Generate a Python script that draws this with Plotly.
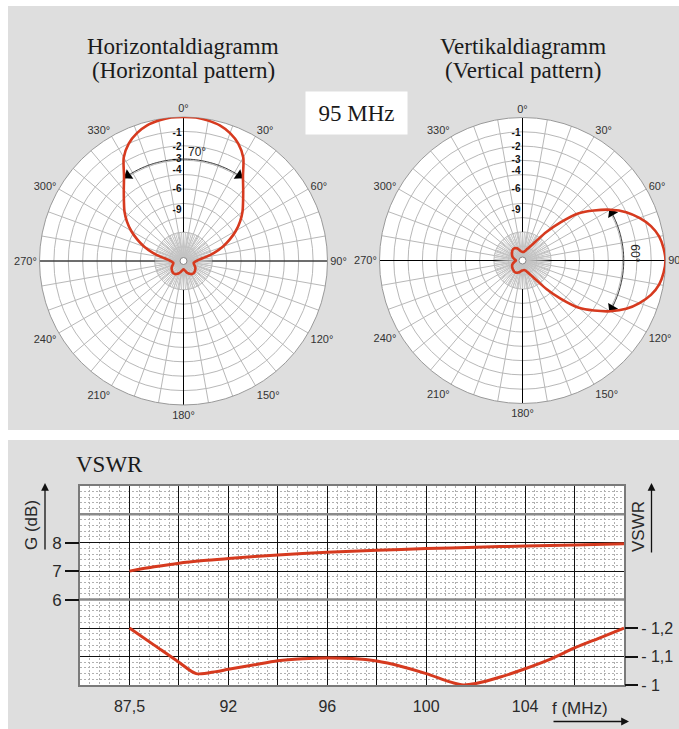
import numpy as np
import plotly.graph_objects as go

W, H = 679, 729          # target picture size
FIG_H = 738              # figure height; the photographed page is squeezed to 729 px

# ---------------- data ----------------
theta_deg = list(range(0, 365, 5))

# Horizontal pattern (relative field strength, linear), 95 MHz
h_pattern = [1.00, 1.00, 0.99, 0.975, 0.945, 0.90, 0.83, 0.72, 0.645, 0.585,
             0.535, 0.48, 0.42, 0.355, 0.29, 0.22, 0.155, 0.11, 0.09, 0.078,
             0.072, 0.074, 0.08, 0.088, 0.095, 0.10, 0.105, 0.108, 0.11, 0.109,
             0.105, 0.098, 0.09, 0.08, 0.07, 0.062, 0.058, 0.062, 0.07, 0.08,
             0.09, 0.098, 0.105, 0.109, 0.11, 0.108, 0.105, 0.10, 0.095, 0.088,
             0.08, 0.074, 0.072, 0.078, 0.09, 0.11, 0.155, 0.22, 0.29, 0.355,
             0.42, 0.48, 0.535, 0.585, 0.645, 0.72, 0.83, 0.90, 0.945, 0.975,
             0.99, 1.00, 1.00]

# Vertical pattern (relative field strength, linear), 95 MHz
v_pattern = [0.06, 0.06, 0.062, 0.068, 0.08, 0.095, 0.12, 0.165, 0.26, 0.38,
             0.515, 0.61, 0.71, 0.80, 0.87, 0.93, 0.97, 0.99, 1.00, 0.99,
             0.97, 0.93, 0.87, 0.80, 0.71, 0.61, 0.515, 0.38, 0.26, 0.165,
             0.12, 0.095, 0.08, 0.072, 0.068, 0.068, 0.07, 0.072, 0.078, 0.085,
             0.09, 0.095, 0.097, 0.097, 0.095, 0.092, 0.09, 0.087, 0.084, 0.08,
             0.074, 0.066, 0.058, 0.05, 0.046, 0.05, 0.058, 0.066, 0.074, 0.08,
             0.085, 0.09, 0.095, 0.10, 0.103, 0.103, 0.10, 0.094, 0.085, 0.075,
             0.066, 0.062, 0.06]

db_ticks = [-1, -2, -3, -4, -6, -9]
ring_vals = [0.1, 0.2, 0.3, 0.4, 0.5, 0.6, 0.7, 0.8, 0.9, 1.0]
ang_labels = [0, 30, 60, 90, 120, 150, 180, 210, 240, 270, 300, 330]
h_beamwidth = 70
v_beamwidth = 60
v_beam_center = 90

# Gain / VSWR vs frequency (band start 87.5 MHz sits on the first labelled gridline)
gain_f = [88, 89, 90, 91, 92, 94, 96, 98, 100, 102, 104, 106, 108]
gain_db = [7.0, 7.15, 7.28, 7.37, 7.44, 7.57, 7.66, 7.73, 7.79, 7.84, 7.88, 7.92, 7.96]
vswr_f = [88, 89, 90, 90.7, 91.5, 92, 93, 94, 95, 96, 97, 98, 99, 100, 101,
          101.5, 102, 103, 104, 105, 106, 107, 108]
vswr = [1.20, 1.14, 1.08, 1.04, 1.047, 1.055, 1.07, 1.085, 1.092, 1.095, 1.093,
        1.084, 1.065, 1.04, 1.01, 1.0, 1.005, 1.028, 1.057, 1.09, 1.13, 1.165, 1.20]
x_alias = {"86": "", "88": "87,5", "90": "", "92": "92", "94": "", "96": "96",
           "98": "", "100": "100", "102": "", "104": "104", "106": "", "108": ""}
gain_ticks = [6, 7, 8]
vswr_ticks = [1.0, 1.1, 1.2]
vswr_ticktext = ["- 1", "- 1,1", "- 1,2"]

# ---------------- styling ----------------
RED = "#d63a1f"
SERIF = "Liberation Serif, Times New Roman, serif"
SANS = "Liberation Sans, Arial, sans-serif"
GRID = "#b8b8b8"
PANEL = "#dedede"

LEFT = dict(cx=183.5, cy=261.0, R=144.0)
RIGHT = dict(cx=522.5, cy=260.5, R=143.0)


def px(x, y):
    """picture pixel -> paper fraction"""
    return x / W, (H - y) / H


def dom(c, scale=1.0):
    R = c["R"] * scale
    x0, y0 = px(c["cx"] - R, c["cy"] + R)
    x1, y1 = px(c["cx"] + R, c["cy"] - R)
    return dict(x=[x0, x1], y=[y0, y1])


def grid_polar(c):
    return dict(
        domain=dom(c), bgcolor="white", hole=0,
        angularaxis=dict(rotation=90, direction="clockwise", tickmode="array",
                         tickvals=list(range(0, 360, 10)),
                         ticktext=[f"{a}°" if a in ang_labels else "" for a in range(0, 360, 10)],
                         showgrid=True, gridcolor=GRID, gridwidth=0.7,
                         showline=True, linecolor="#9a9a9a", linewidth=1, ticks="",
                         tickfont=dict(family=SANS, size=11, color="#333")),
        radialaxis=dict(range=[0, 1], tickvals=ring_vals, showticklabels=False,
                        ticks="", showline=False, showgrid=True,
                        gridcolor=GRID, gridwidth=0.7))


def fan_polar(c):
    return dict(
        domain=dom(c, 0.2), bgcolor="rgba(0,0,0,0)", hole=0,
        angularaxis=dict(rotation=90, direction="clockwise", tickmode="linear",
                         tick0=0, dtick=4, showgrid=True, gridcolor="#c4c4c4",
                         gridwidth=0.5, showticklabels=False, ticks="", showline=False),
        radialaxis=dict(range=[0, 1], showgrid=False, showticklabels=False,
                        ticks="", showline=False))


def data_polar(c):
    return dict(
        domain=dom(c), bgcolor="rgba(0,0,0,0)", hole=0,
        angularaxis=dict(rotation=90, direction="clockwise", showgrid=False,
                         showticklabels=False, ticks="", showline=False),
        radialaxis=dict(range=[0, 1], angle=90, side="counterclockwise",
                        tickmode="array",
                        tickvals=[10 ** (d / 20) for d in db_ticks],
                        ticktext=[f"<b>{d}</b>" for d in db_ticks],
                        tickangle=90,
                        showgrid=False, showline=False, ticks="",
                        tickfont=dict(family=SANS, size=10, color="#111")))


fig = go.Figure()

r3 = 10 ** (-3 / 20)


def add_polar_set(grid_id, fan_id, data_id, pattern, arc_a0, arc_a1, arrow_angles):
    fig.add_trace(go.Scatterpolar(r=[1, 0, 1], theta=[0, 0, 180], mode="lines",
                                  line=dict(color="black", width=1),
                                  subplot=grid_id, hoverinfo="skip", showlegend=False))
    fig.add_trace(go.Scatterpolar(r=[1, 0, 1], theta=[90, 90, 270], mode="lines",
                                  line=dict(color="black", width=1),
                                  subplot=grid_id, hoverinfo="skip", showlegend=False))
    fig.add_trace(go.Scatterpolar(r=[0], theta=[0], mode="markers",
                                  marker=dict(size=1, opacity=0),
                                  subplot=fan_id, hoverinfo="skip", showlegend=False))
    arc_t = np.linspace(arc_a0, arc_a1, 80)
    fig.add_trace(go.Scatterpolar(r=[r3] * len(arc_t), theta=arc_t, mode="lines",
                                  line=dict(color="#333", width=1),
                                  subplot=data_id, hoverinfo="skip", showlegend=False))
    fig.add_trace(go.Scatterpolar(r=[r3, r3], theta=[arc_a0 + 2, arc_a1 - 2], mode="markers",
                                  marker=dict(symbol="triangle-up", size=10, color="black",
                                              angle=arrow_angles, line=dict(width=0)),
                                  subplot=data_id, hoverinfo="skip", showlegend=False))
    fig.add_trace(go.Scatterpolar(r=pattern, theta=theta_deg, mode="lines",
                                  line=dict(color=RED, width=2.6, shape="spline", smoothing=0.8),
                                  subplot=data_id, hoverinfo="skip", showlegend=False))
    fig.add_trace(go.Scatterpolar(r=[0], theta=[0], mode="markers",
                                  marker=dict(size=7, color="white", line=dict(color="#888", width=1)),
                                  subplot=data_id, hoverinfo="skip", showlegend=False))


add_polar_set("polar", "polar2", "polar3", h_pattern,
              -h_beamwidth / 2, h_beamwidth / 2, [235, 125])
add_polar_set("polar4", "polar5", "polar6", v_pattern,
              v_beam_center - v_beamwidth / 2, v_beam_center + v_beamwidth / 2, [330, 210])

# ---------------- bottom chart ----------------
fig.add_trace(go.Scatter(x=gain_f, y=gain_db, mode="lines", yaxis="y3",
                         line=dict(color=RED, width=3, shape="spline", smoothing=0.8),
                         hoverinfo="skip", showlegend=False))
fig.add_trace(go.Scatter(x=vswr_f, y=vswr, mode="lines", yaxis="y2",
                         line=dict(color=RED, width=3, shape="spline", smoothing=0.8),
                         hoverinfo="skip", showlegend=False))

xa0, ya0 = px(80, 685)
xa1, ya1 = px(624, 485.7)

MINOR = dict(showgrid=True, gridcolor="#b0b0b0", griddash="2px,2px", gridwidth=1, ticks="")

layout = dict(
    width=W, height=FIG_H, margin=dict(l=0, r=0, t=0, b=0),
    paper_bgcolor=PANEL, plot_bgcolor="white", showlegend=False,
    polar=grid_polar(LEFT), polar2=fan_polar(LEFT), polar3=data_polar(LEFT),
    polar4=grid_polar(RIGHT), polar5=fan_polar(RIGHT), polar6=data_polar(RIGHT),
    xaxis=dict(domain=[xa0, xa1], range=[86, 108], tickmode="linear", tick0=86, dtick=2,
               labelalias=x_alias, showgrid=True, gridcolor="#111", gridwidth=1,
               ticks="", showline=True, mirror=True, linecolor="#7a7a7a", linewidth=2,
               zeroline=False, ticklabelstandoff=6,
               tickfont=dict(family=SANS, size=16, color="#2a2a2a"),
               minor=dict(tick0=86, dtick=0.4, **MINOR)),
    yaxis=dict(domain=[ya0, ya1], range=[3, 10], tickmode="linear", tick0=3, dtick=1,
               showticklabels=False, ticks="", showgrid=True, gridcolor="#111",
               gridwidth=1, showline=True, mirror=True, linecolor="#7a7a7a",
               linewidth=2, zeroline=False,
               minor=dict(tick0=3, dtick=0.2, **MINOR)),
    yaxis3=dict(overlaying="y", side="left", anchor="x", range=[3, 10],
                tickmode="array", tickvals=gain_ticks, ticks="outside", ticklen=14,
                tickwidth=2, tickcolor="#111", showgrid=False, zeroline=False,
                showline=False, tickfont=dict(family=SANS, size=17, color="#2a2a2a")),
    yaxis2=dict(overlaying="y", side="right", anchor="x", range=[1.0, 1.7],
                tickmode="array", tickvals=vswr_ticks, ticktext=vswr_ticktext,
                ticks="outside", ticklen=13, tickwidth=2, tickcolor="#111",
                showgrid=False, zeroline=False, showline=False,
                tickfont=dict(family=SANS, size=16, color="#2a2a2a")),
)
fig.update_layout(**layout)


# ---------------- shapes: white frame strips & panel gap ----------------
def white_rect(x0, y0, x1, y1):
    a0, b0 = px(x0, y1)
    a1, b1 = px(x1, y0)
    fig.add_shape(type="rect", xref="paper", yref="paper", x0=a0, x1=a1,
                  y0=b0, y1=b1, fillcolor="white", line_width=0, layer="below")


white_rect(0, 0, 8, H)       # left strip
white_rect(0, 0, W, 6)       # top strip
white_rect(0, 430, W, 440)   # gap between panels

for gy in [6, 9]:
    fig.add_shape(type="line", xref="x domain", yref="y", x0=0, x1=1, y0=gy, y1=gy,
                  line=dict(color="#8a8a8a", width=2.5), layer="above")


def ann(text, x, y, size, family=SERIF, color="#1a1a1a", **kw):
    ax_, ay_ = px(x, y)
    fig.add_annotation(text=text, x=ax_, y=ay_, xref="paper", yref="paper",
                       showarrow=False, font=dict(family=family, size=size, color=color),
                       xanchor="center", yanchor="middle", **kw)


ann("Horizontaldiagramm", 183, 46.5, 23)
ann("(Horizontal pattern)", 183, 70.5, 23)
ann("Vertikaldiagramm", 523, 46.5, 23)
ann("(Vertical pattern)", 523, 70.5, 23)
ann("95 MHz", 356.5, 112.5, 23, bgcolor="white", width=99, height=40)
ann("VSWR", 109, 464, 23)


def polar_xy(c, theta, r):
    t = np.radians(theta)
    return c["cx"] + r * c["R"] * np.sin(t), c["cy"] - r * c["R"] * np.cos(t)


x70, y70 = polar_xy(LEFT, 7, 0.765)
ann(f"{h_beamwidth}°", x70, y70, 12, family=SANS, color="#222")
x60, y60 = polar_xy(RIGHT, 86.5, 0.79)
ann(f"{v_beamwidth}°", x60, y60, 12, family=SANS, color="#222", textangle=90)

ann("G (dB)", 31, 525, 17, family=SANS, color="#2a2a2a", textangle=-90)
ann("VSWR", 638, 527, 17, family=SANS, color="#2a2a2a", textangle=-90)
ann("f (MHz)", 580, 708, 17, family=SANS, color="#2a2a2a")


def arrow(x_head, y_head, dx, dy):
    hx, hy = px(x_head, y_head)
    fig.add_annotation(x=hx, y=hy, xref="paper", yref="paper", text="",
                       showarrow=True, arrowhead=2, arrowsize=1.2, arrowwidth=1.3,
                       arrowcolor="#111", ax=dx, ay=dy)


arrow(45, 483, 0, 68)
arrow(651.5, 483, 0, 71)
arrow(629, 721.5, -77, 0)

fig.write_html("out.html", config={"displayModeBar": False},
               post_script="document.body.style.margin='0';document.body.style.overflow='hidden';")
